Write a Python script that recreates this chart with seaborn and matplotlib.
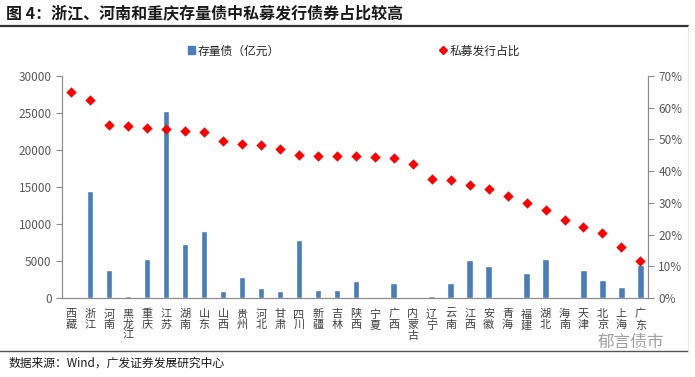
import numpy as np
import seaborn as sns
import matplotlib.pyplot as plt
from matplotlib.lines import Line2D
from matplotlib.patches import Patch
from matplotlib.ticker import FuncFormatter

provinces = ['西藏', '浙江', '河南', '黑龙江', '重庆', '江苏', '湖南', '山东', '山西', '贵州',
             '河北', '甘肃', '四川', '新疆', '吉林', '陕西', '宁夏', '广西', '内蒙古', '辽宁',
             '云南', '江西', '安徽', '青海', '福建', '湖北', '海南', '天津', '北京', '上海', '广东']
stock_bonds = [100, 14400, 3800, 300, 5300, 25300, 7300, 9000, 900, 2900,
               1400, 900, 7800, 1100, 1100, 2350, 100, 2000, 200, 300,
               2000, 5100, 4350, 100, 3350, 5300, 50, 3800, 2450, 1450, 4450]
private_share = [65.1, 62.3, 54.5, 54.1, 53.7, 53.4, 52.6, 52.3, 49.6, 48.5,
                 48.2, 47.1, 45.1, 44.9, 44.8, 44.8, 44.6, 44.0, 42.4, 37.5,
                 37.1, 35.6, 34.5, 32.1, 30.0, 27.9, 24.7, 22.5, 20.6, 16.2, 11.6]

sns.set_style('white')
plt.rcParams['font.family'] = ['Noto Sans CJK SC', 'DejaVu Sans']

bar_color = '#4a7ebb'
gray = '#595959'
spine_gray = '#8c8c8c'

fig = plt.figure(figsize=(6.95, 3.77), dpi=100)
ax = fig.add_axes([62 / 695, 1 - 298 / 377, 586 / 695, 222 / 377])

x = np.arange(len(provinces))
sns.barplot(x=x, y=stock_bonds, color=bar_color, width=0.34, ax=ax, saturation=1)
ax.set_ylim(0, 30000)
ax.set_yticks(range(0, 30001, 5000))
ax.set_xlim(-0.48, 30.4)
ax.set_xticks(x)
ax.set_xticklabels(['\n'.join(p) for p in provinces], linespacing=1.1,
                   fontsize=8, color='#404040', va='top')
ax.tick_params(axis='x', length=0, pad=8)
ax.tick_params(axis='y', length=4, width=0.8, color=spine_gray, labelsize=8.5,
               labelcolor=gray, direction='out', left=True)

ax2 = ax.twinx()
sns.scatterplot(x=x, y=private_share, marker='D', s=28, color='#ff0000',
                edgecolor='#ff0000', linewidth=0, ax=ax2, legend=False)
ax2.set_ylim(0, 70)
ax2.set_yticks(range(0, 71, 10))
ax2.yaxis.set_major_formatter(FuncFormatter(lambda v, _: f'{v:.0f}%'))
ax2.tick_params(axis='y', length=4, width=0.8, color=spine_gray, labelsize=8.5,
                labelcolor=gray, direction='out', right=True)

for a in (ax, ax2):
    a.spines['top'].set_visible(False)
    for s in ('left', 'right', 'bottom'):
        a.spines[s].set_color(spine_gray)
        a.spines[s].set_linewidth(0.8)
    a.set_xlabel('')
    a.set_ylabel('')

# legends above the plot
fig.legend(handles=[Patch(color=bar_color)], labels=['存量债（亿元）'],
           loc='center', bbox_to_anchor=(0.337, 0.865), frameon=False,
           fontsize=8.5, handlelength=0.6, handleheight=0.6, handletextpad=0.2)
fig.legend(handles=[Line2D([], [], marker='D', color='#ff0000', linestyle='', markersize=4)],
           labels=['私募发行占比'], loc='center', bbox_to_anchor=(0.69, 0.865),
           frameon=False, fontsize=8.5, handlelength=0.6, handletextpad=0.3)

# title, rules and source
fig.text(0.008, 0.965, '图 4：浙江、河南和重庆存量债中私募发行债券占比较高',
         fontsize=11.5, fontweight='bold', color='#1a1a1a', va='center')
fig.add_artist(Line2D([0, 0.99], [0.931, 0.931], color='#333333', linewidth=1.6))
fig.add_artist(Line2D([0, 0.99], [0.069, 0.069], color='#555555', linewidth=1.0))
fig.add_artist(Line2D([0.99, 0.99], [0.069, 0.931], color='#e6e6e6', linewidth=0.8))
fig.text(0.012, 0.037, '数据来源：Wind，广发证券发展研究中心', fontsize=8.5,
         color='#1a1a1a', va='center')
fig.text(0.86, 0.093, '郁言债市', fontsize=12, color='#a0a0a0', va='center')

fig.savefig('out.png', dpi=100)
